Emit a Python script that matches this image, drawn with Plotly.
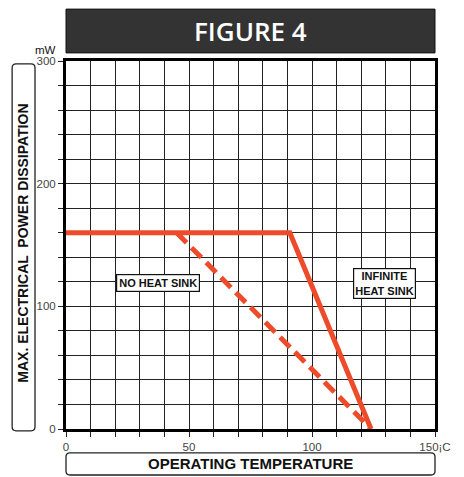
import plotly.graph_objects as go

# curve data (temperature in C, power in mW)
infinite_temp = [0, 91, 124]
infinite_power = [160, 160, 0]
no_sink_temp = [45, 124]
no_sink_power = [160, 0]

x_grid = list(range(0, 151, 10))
x_labels = ["0", "", "", "", "", "50", "", "", "", "", "100", "", "", "", "", "150¡C"]
y_grid = list(range(0, 301, 20))
y_labels = ["0", "", "", "", "", "100", "", "", "", "", "200", "", "", "", "", "300"]

red = "#EE4B2B"


def rounded_box(x0, x1, y0, y1, r=4, w=369, h=368):
    # rounded rectangle path in paper coords, radius r given in pixels
    rx, ry = r / w, r / h
    return (f"M {x0 + rx},{y0} L {x1 - rx},{y0} Q {x1},{y0} {x1},{y0 + ry} "
            f"L {x1},{y1 - ry} Q {x1},{y1} {x1 - rx},{y1} "
            f"L {x0 + rx},{y1} Q {x0},{y1} {x0},{y1 - ry} "
            f"L {x0},{y0 + ry} Q {x0},{y0} {x0 + rx},{y0} Z")


fig = go.Figure()
fig.add_trace(go.Scatter(x=no_sink_temp, y=no_sink_power, mode="lines",
                         line=dict(color=red, width=5, dash="14px,7px"),
                         name="No heat sink"))
fig.add_trace(go.Scatter(x=infinite_temp, y=infinite_power, mode="lines",
                         line=dict(color=red, width=5),
                         name="Infinite heat sink"))

fig.update_xaxes(range=[0, 150], tickvals=x_grid, ticktext=x_labels,
                 showgrid=True, gridcolor="#222", gridwidth=1.2,
                 ticks="outside", ticklen=5, tickcolor="#222",
                 showline=True, linecolor="black", linewidth=3, mirror=True,
                 zeroline=False, tickfont=dict(size=11.5, color="#444"))
fig.update_yaxes(range=[0, 300], tickvals=y_grid, ticktext=y_labels,
                 showgrid=True, gridcolor="#222", gridwidth=1.2,
                 ticks="outside", ticklen=5, tickcolor="#222",
                 showline=True, linecolor="black", linewidth=3, mirror=True,
                 zeroline=False, tickfont=dict(size=11.5, color="#444"))

# title box
fig.add_shape(type="rect", xref="paper", yref="paper", x0=0, x1=1, y0=1.022, y1=1.141,
              fillcolor="#333333", line=dict(color="#111", width=1))
fig.add_annotation(xref="paper", yref="paper", x=0.5, y=1.081, text="FIGURE 4",
                   xanchor="center", yanchor="middle", showarrow=False,
                   font=dict(size=26, color="white", family="Open Sans", weight=600))
# x label box
fig.add_shape(type="path", xref="paper", yref="paper",
              path=rounded_box(0, 1, -0.125, -0.065),
              fillcolor="white", line=dict(color="#222", width=1.3))
fig.add_annotation(xref="paper", yref="paper", x=0.5, y=-0.095, text="<b>OPERATING TEMPERATURE</b>",
                   xanchor="center", yanchor="middle",
                   showarrow=False, font=dict(size=15, color="#111", family="Liberation Sans"))
# y label box
fig.add_shape(type="path", xref="paper", yref="paper",
              path=rounded_box(-0.146, -0.084, -0.005, 0.992),
              fillcolor="white", line=dict(color="#222", width=1.3))
fig.add_annotation(xref="paper", yref="paper", x=-0.115, y=0.505,
                   text="<b>MAX. ELECTRICAL  POWER DISSIPATION</b>", textangle=-90,
                   xanchor="center", yanchor="middle",
                   showarrow=False, font=dict(size=14, color="#111", family="Liberation Sans"))
fig.add_annotation(xref="paper", yref="paper", x=-0.055, y=1.03, text="mW",
                   xanchor="center", yanchor="middle",
                   showarrow=False, font=dict(size=11.5, color="#111", family="Liberation Sans"))

# curve labels
fig.add_annotation(x=37.5, y=119, text="<b>NO HEAT SINK</b>", showarrow=False,
                   bgcolor="white", bordercolor="#111", borderwidth=1.2, borderpad=2,
                   font=dict(size=11, color="#111", family="Liberation Sans"))
fig.add_annotation(x=129.5, y=119, text="<b>INFINITE<br>HEAT SINK</b>", showarrow=False,
                   bgcolor="white", bordercolor="#111", borderwidth=1.2, borderpad=1,
                   font=dict(size=11, color="#111", family="Liberation Sans"))

# page body adds ~8px offset, so the figure is shrunk and the margins reduced
fig.update_layout(width=456, height=469, margin=dict(l=58, r=29, t=53, b=48),
                  plot_bgcolor="white", paper_bgcolor="white", showlegend=False,
                  font=dict(family="Liberation Sans"))

fig.write_html("out.html")
